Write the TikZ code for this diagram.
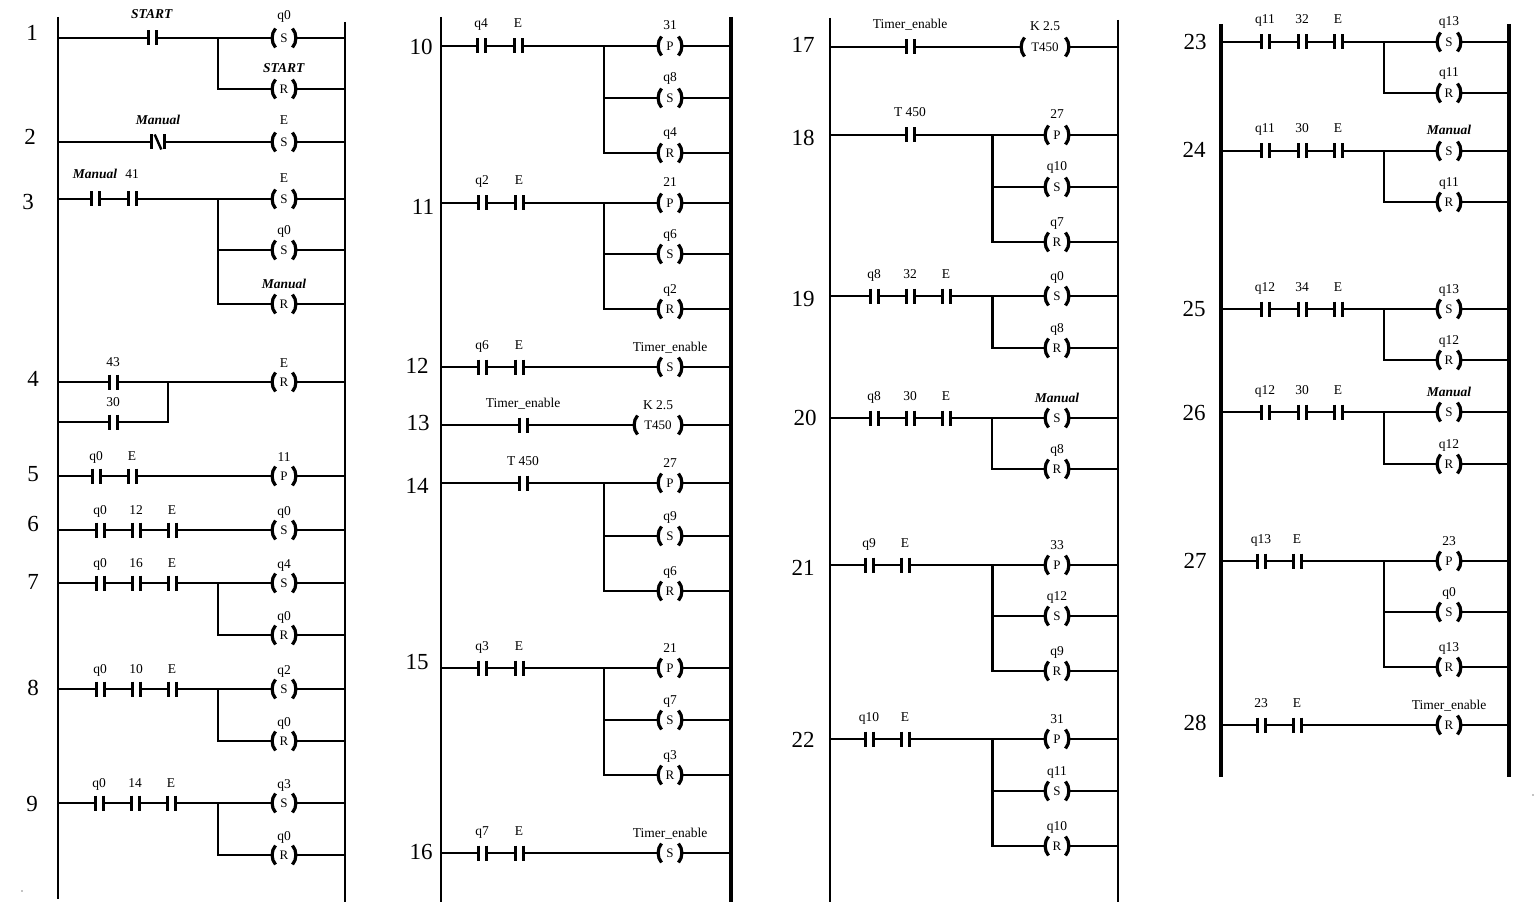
\documentclass[tikz,border=0pt]{standalone}
\usepackage{fontspec}
\setmainfont{Liberation Serif}
\usetikzlibrary{calc}
\tikzset{
  wire/.style={line width=2pt},
  bwire/.style={line width=3pt},
  rail/.style={line width=2.6pt},
  railthick/.style={line width=3.4pt},
  railheavy/.style={line width=4pt},
  plate/.style={line width=3pt},
  paren/.style={line width=3.2pt, line cap=butt},
  ctc/.style={rectangle, inner sep=0pt, outer sep=0pt, minimum width=8pt, minimum height=15pt},
  ncc/.style={ctc, minimum width=13pt},
  coil/.style={rectangle, inner sep=0pt, outer sep=0pt, minimum width=25pt, minimum height=19pt, font=\fontsize{13}{14}\selectfont},
  tmr/.style={coil, minimum width=49pt},
  lbl/.style={inner sep=0pt, anchor=base, font=\fontsize{13.5}{15}\selectfont},
  num/.style={inner sep=0pt, font=\fontsize{23}{25}\selectfont},
}
\def\clo{16pt}
\def\olo{15pt}
% normally open contact: name, x, y, label
\newcommand\NOc[4]{%
  \node[ctc] (#1) at (#2,#3) {};
  \draw[plate] (#1.north west) -- (#1.south west) (#1.north east) -- (#1.south east);
  \node[lbl] (#1l) at ([yshift=\clo]#1.center) {#4};}
% normally closed contact
\newcommand\NCc[4]{%
  \node[ncc] (#1) at (#2,#3) {};
  \draw[plate] (#1.north west) -- (#1.south west) (#1.north east) -- (#1.south east);
  \draw[line width=2.4pt] ([xshift=3.2pt]#1.north west) -- ([xshift=-3.2pt]#1.south east);
  \node[lbl] (#1l) at ([yshift=\clo]#1.center) {#4};}
% coil: [style] name, x, y, letter, label
\newcommand\CLc[6][coil]{%
  \node[#1] (#2) at (#3,#4) {#5};
  \draw[paren] ([xshift=4pt]#2.north west) .. controls ([xshift=-0.5pt,yshift=-5pt]#2.north west) and ([xshift=-0.5pt,yshift=5pt]#2.south west) .. ([xshift=4pt]#2.south west);
  \draw[paren] ([xshift=-4pt]#2.north east) .. controls ([xshift=0.5pt,yshift=-5pt]#2.north east) and ([xshift=0.5pt,yshift=5pt]#2.south east) .. ([xshift=-4pt]#2.south east);
  \node[lbl] (#2l) at ([yshift=\olo]#2.center) {#6};}
\newcommand\BI[1]{\textbf{\textit{#1}}}
\begin{document}
\begin{tikzpicture}[x=1pt,y=-1pt]
\fill[white] (0,0) rectangle (1536,912);
\useasboundingbox (0,0) rectangle (1536,912);

% ================= Column 1 =================
\coordinate (LA1) at (58,17);  \coordinate (LA2) at (58,899);
\coordinate (RA1) at (345,22); \coordinate (RA2) at (345,902);
\draw[rail] (LA1) -- (LA2);
\draw[rail] (RA1) -- (RA2);

\node[num] (n1) at (32,33) {1};
\node[num] (n2) at (30,137) {2};
\node[num] (n3) at (28,202) {3};
\node[num] (n4) at (33,379) {4};
\node[num] (n5) at (33,474) {5};
\node[num] (n6) at (33,524) {6};
\node[num] (n7) at (33,582) {7};
\node[num] (n8) at (33,688) {8};
\node[num] (n9) at (32,804) {9};

% rung 1
\def\clo{19pt}\def\olo{18pt}
\NOc{c1a}{152}{38}{\BI{START}}
\CLc{o1a}{284}{38}{S}{q0}
\def\olo{16pt}
\CLc{o1b}{284}{89}{R}{\BI{START}}
\coordinate (b1) at (218,38);
\draw[wire] (c1a -| LA1) -- (c1a) -- (o1a) -- (o1a -| RA1);
\draw[wire] (b1) |- (o1b) -- (o1b -| RA1);
% rung 2
\def\clo{17pt}\def\olo{17pt}
\NCc{c2a}{158}{142}{\BI{Manual}}
\CLc{o2a}{284}{142}{S}{E}
\draw[wire] (c2a -| LA1) -- (c2a) -- (o2a) -- (o2a -| RA1);
% rung 3
\def\clo{20pt}\def\olo{16pt}
\NOc{c3a}{95}{199}{\BI{Manual}}
\NOc{c3b}{132}{199}{41}
\CLc{o3a}{284}{199}{S}{E}
\CLc{o3b}{284}{250}{S}{q0}
\CLc{o3c}{284}{304}{R}{\BI{Manual}}
\coordinate (b3) at (218,199);
\draw[wire] (c3a -| LA1) -- (c3a) -- (c3b) -- (o3a) -- (o3a -| RA1);
\draw[wire] (b3) |- (o3b) -- (o3b -| RA1);
\draw[wire] (b3) |- (o3c) -- (o3c -| RA1);
\def\clo{16pt}\def\olo{15pt}
% rung 4
\NOc{c4a}{113}{382}{43}
\NOc{c4b}{113}{422}{30}
\CLc{o4a}{284}{382}{R}{E}
\coordinate (j4) at (168,382);
\draw[wire] (c4a -| LA1) -- (c4a) -- (o4a) -- (o4a -| RA1);
\draw[wire] (c4b -| LA1) -- (c4b) -| (j4);
% rung 5
\NOc{c5a}{96}{476}{q0}
\NOc{c5b}{132}{476}{E}
\CLc{o5a}{284}{476}{P}{11}
\draw[wire] (c5a -| LA1) -- (c5a) -- (c5b) -- (o5a) -- (o5a -| RA1);
% rung 6
\NOc{c6a}{100}{530}{q0}
\NOc{c6b}{136}{530}{12}
\NOc{c6c}{172}{530}{E}
\CLc{o6a}{284}{530}{S}{q0}
\draw[wire] (c6a -| LA1) -- (c6a) -- (c6b) -- (c6c) -- (o6a) -- (o6a -| RA1);
% rung 7
\NOc{c7a}{100}{583}{q0}
\NOc{c7b}{136}{583}{16}
\NOc{c7c}{172}{583}{E}
\CLc{o7a}{284}{583}{S}{q4}
\CLc{o7b}{284}{635}{R}{q0}
\coordinate (b7) at (218,583);
\draw[wire] (c7a -| LA1) -- (c7a) -- (c7b) -- (c7c) -- (o7a) -- (o7a -| RA1);
\draw[wire] (b7) |- (o7b) -- (o7b -| RA1);
% rung 8
\NOc{c8a}{100}{689}{q0}
\NOc{c8b}{136}{689}{10}
\NOc{c8c}{172}{689}{E}
\CLc{o8a}{284}{689}{S}{q2}
\CLc{o8b}{284}{741}{R}{q0}
\coordinate (b8) at (218,689);
\draw[wire] (c8a -| LA1) -- (c8a) -- (c8b) -- (c8c) -- (o8a) -- (o8a -| RA1);
\draw[wire] (b8) |- (o8b) -- (o8b -| RA1);
% rung 9
\NOc{c9a}{99}{803}{q0}
\NOc{c9b}{135}{803}{14}
\NOc{c9c}{171}{803}{E}
\CLc{o9a}{284}{803}{S}{q3}
\CLc{o9b}{284}{855}{R}{q0}
\coordinate (b9) at (218,803);
\draw[wire] (c9a -| LA1) -- (c9a) -- (c9b) -- (c9c) -- (o9a) -- (o9a -| RA1);
\draw[wire] (b9) |- (o9b) -- (o9b -| RA1);

% ================= Column 2 =================
\def\clo{18pt}\def\olo{16pt}
\coordinate (LB1) at (441,17); \coordinate (LB2) at (441,902);
\coordinate (RB1) at (731,17); \coordinate (RB2) at (731,902);
\draw[rail] (LB1) -- (LB2);
\draw[railthick] (RB1) -- (RB2);

\node[num] (n10) at (421,47) {10};
\node[num] (n11) at (423,207) {11};
\node[num] (n12) at (417,366) {12};
\node[num] (n13) at (418,423) {13};
\node[num] (n14) at (417,486) {14};
\node[num] (n15) at (417,662) {15};
\node[num] (n16) at (421,852) {16};

% rung 10
\NOc{c10a}{481}{46}{q4}
\NOc{c10b}{518}{46}{E}
\CLc{o10a}{670}{46}{P}{31}
\CLc{o10b}{670}{98}{S}{q8}
\CLc{o10c}{670}{153}{R}{q4}
\coordinate (b10) at (604,46);
\draw[wire] (c10a -| LB1) -- (c10a) -- (c10b) -- (o10a) -- (o10a -| RB1);
\draw[wire] (b10) |- (o10b) -- (o10b -| RB1);
\draw[wire] (b10) |- (o10c) -- (o10c -| RB1);
% rung 11
\NOc{c11a}{482}{203}{q2}
\NOc{c11b}{519}{203}{E}
\CLc{o11a}{670}{203}{P}{21}
\CLc{o11b}{670}{254}{S}{q6}
\CLc{o11c}{670}{309}{R}{q2}
\coordinate (b11) at (604,203);
\draw[wire] (c11a -| LB1) -- (c11a) -- (c11b) -- (o11a) -- (o11a -| RB1);
\draw[wire] (b11) |- (o11b) -- (o11b -| RB1);
\draw[wire] (b11) |- (o11c) -- (o11c -| RB1);
% rung 12
\NOc{c12a}{482}{367}{q6}
\NOc{c12b}{519}{367}{E}
\CLc{o12a}{670}{367}{S}{Timer\_enable}
\draw[wire] (c12a -| LB1) -- (c12a) -- (c12b) -- (o12a) -- (o12a -| RB1);
% rung 13
\NOc{c13a}{523}{425}{Timer\_enable}
\CLc[tmr]{o13a}{658}{425}{T450}{K 2.5}
\draw[wire] (c13a -| LB1) -- (c13a) -- (o13a) -- (o13a -| RB1);
% rung 14
\NOc{c14a}{523}{483}{T 450}
\CLc{o14a}{670}{483}{P}{27}
\CLc{o14b}{670}{536}{S}{q9}
\CLc{o14c}{670}{591}{R}{q6}
\coordinate (b14) at (604,483);
\draw[wire] (c14a -| LB1) -- (c14a) -- (o14a) -- (o14a -| RB1);
\draw[wire] (b14) |- (o14b) -- (o14b -| RB1);
\draw[wire] (b14) |- (o14c) -- (o14c -| RB1);
% rung 15
\NOc{c15a}{482}{668}{q3}
\NOc{c15b}{519}{668}{E}
\CLc{o15a}{670}{668}{P}{21}
\CLc{o15b}{670}{720}{S}{q7}
\CLc{o15c}{670}{775}{R}{q3}
\coordinate (b15) at (604,668);
\draw[wire] (c15a -| LB1) -- (c15a) -- (c15b) -- (o15a) -- (o15a -| RB1);
\draw[wire] (b15) |- (o15b) -- (o15b -| RB1);
\draw[wire] (b15) |- (o15c) -- (o15c -| RB1);
% rung 16
\NOc{c16a}{482}{853}{q7}
\NOc{c16b}{519}{853}{E}
\CLc{o16a}{670}{853}{S}{Timer\_enable}
\draw[wire] (c16a -| LB1) -- (c16a) -- (c16b) -- (o16a) -- (o16a -| RB1);

% ================= Column 3 =================
\coordinate (LC1) at (830,18);  \coordinate (LC2) at (830,902);
\coordinate (RC1) at (1118,20); \coordinate (RC2) at (1118,902);
\draw[rail] (LC1) -- (LC2);
\draw[rail] (RC1) -- (RC2);

\node[num] (n17) at (803,45) {17};
\node[num] (n18) at (803,138) {18};
\node[num] (n19) at (803,299) {19};
\node[num] (n20) at (805,418) {20};
\node[num] (n21) at (803,568) {21};
\node[num] (n22) at (803,740) {22};

% rung 17
\NOc{c17a}{910}{47}{Timer\_enable}
\CLc[tmr]{o17a}{1045}{47}{T450}{K 2.5}
\draw[wire] (c17a -| LC1) -- (c17a) -- (o17a) -- (o17a -| RC1);
% rung 18
\NOc{c18a}{910}{135}{T 450}
\CLc{o18a}{1057}{135}{P}{27}
\CLc{o18b}{1057}{187}{S}{q10}
\CLc{o18c}{1057}{242}{R}{q7}
\coordinate (b18) at (992,135);
\draw[wire] (c18a -| LC1) -- (c18a) -- (o18a) -- (o18a -| RC1);
\draw[wire] (b18) |- (o18b) -- (o18b -| RC1);
\draw[wire] (b18) |- (o18c) -- (o18c -| RC1);
\draw[bwire] (b18) -- (b18 |- o18c);
% rung 19
\NOc{c19a}{874}{296}{q8}
\NOc{c19b}{910}{296}{32}
\NOc{c19c}{946}{296}{E}
\CLc{o19a}{1057}{296}{S}{q0}
\CLc{o19b}{1057}{348}{R}{q8}
\coordinate (b19) at (992,296);
\draw[wire] (c19a -| LC1) -- (c19a) -- (c19b) -- (c19c) -- (o19a) -- (o19a -| RC1);
\draw[wire] (b19) |- (o19b) -- (o19b -| RC1);
\draw[bwire] (b19) -- (b19 |- o19b);
% rung 20
\NOc{c20a}{874}{418}{q8}
\NOc{c20b}{910}{418}{30}
\NOc{c20c}{946}{418}{E}
\CLc{o20a}{1057}{418}{S}{\BI{Manual}}
\CLc{o20b}{1057}{469}{R}{q8}
\coordinate (b20) at (992,418);
\draw[wire] (c20a -| LC1) -- (c20a) -- (c20b) -- (c20c) -- (o20a) -- (o20a -| RC1);
\draw[wire] (b20) |- (o20b) -- (o20b -| RC1);
% rung 21
\NOc{c21a}{869}{565}{q9}
\NOc{c21b}{905}{565}{E}
\CLc{o21a}{1057}{565}{P}{33}
\CLc{o21b}{1057}{616}{S}{q12}
\CLc{o21c}{1057}{671}{R}{q9}
\coordinate (b21) at (992,565);
\draw[wire] (c21a -| LC1) -- (c21a) -- (c21b) -- (o21a) -- (o21a -| RC1);
\draw[wire] (b21) |- (o21b) -- (o21b -| RC1);
\draw[wire] (b21) |- (o21c) -- (o21c -| RC1);
\draw[bwire] (b21) -- (b21 |- o21c);
% rung 22
\NOc{c22a}{869}{739}{q10}
\NOc{c22b}{905}{739}{E}
\CLc{o22a}{1057}{739}{P}{31}
\CLc{o22b}{1057}{791}{S}{q11}
\CLc{o22c}{1057}{846}{R}{q10}
\coordinate (b22) at (992,739);
\draw[wire] (c22a -| LC1) -- (c22a) -- (c22b) -- (o22a) -- (o22a -| RC1);
\draw[wire] (b22) |- (o22b) -- (o22b -| RC1);
\draw[wire] (b22) |- (o22c) -- (o22c -| RC1);
\draw[bwire] (b22) -- (b22 |- o22c);

% ================= Column 4 =================
\coordinate (LD1) at (1221,24); \coordinate (LD2) at (1221,777);
\coordinate (RD1) at (1509,24); \coordinate (RD2) at (1509,777);
\draw[railheavy] (LD1) -- (LD2);
\draw[railheavy] (RD1) -- (RD2);

\node[num] (n23) at (1195,42) {23};
\node[num] (n24) at (1194,150) {24};
\node[num] (n25) at (1194,309) {25};
\node[num] (n26) at (1194,413) {26};
\node[num] (n27) at (1195,561) {27};
\node[num] (n28) at (1195,723) {28};

% rung 23
\NOc{c23a}{1265}{42}{q11}
\NOc{c23b}{1302}{42}{32}
\NOc{c23c}{1338}{42}{E}
\CLc{o23a}{1449}{42}{S}{q13}
\CLc{o23b}{1449}{93}{R}{q11}
\coordinate (b23) at (1384,42);
\draw[wire] (c23a -| LD1) -- (c23a) -- (c23b) -- (c23c) -- (o23a) -- (o23a -| RD1);
\draw[wire] (b23) |- (o23b) -- (o23b -| RD1);
% rung 24
\NOc{c24a}{1265}{151}{q11}
\NOc{c24b}{1302}{151}{30}
\NOc{c24c}{1338}{151}{E}
\CLc{o24a}{1449}{151}{S}{\BI{Manual}}
\CLc{o24b}{1449}{202}{R}{q11}
\coordinate (b24) at (1384,151);
\draw[wire] (c24a -| LD1) -- (c24a) -- (c24b) -- (c24c) -- (o24a) -- (o24a -| RD1);
\draw[wire] (b24) |- (o24b) -- (o24b -| RD1);
% rung 25
\NOc{c25a}{1265}{309}{q12}
\NOc{c25b}{1302}{309}{34}
\NOc{c25c}{1338}{309}{E}
\CLc{o25a}{1449}{309}{S}{q13}
\CLc{o25b}{1449}{360}{R}{q12}
\coordinate (b25) at (1384,309);
\draw[wire] (c25a -| LD1) -- (c25a) -- (c25b) -- (c25c) -- (o25a) -- (o25a -| RD1);
\draw[wire] (b25) |- (o25b) -- (o25b -| RD1);
% rung 26
\NOc{c26a}{1265}{412}{q12}
\NOc{c26b}{1302}{412}{30}
\NOc{c26c}{1338}{412}{E}
\CLc{o26a}{1449}{412}{S}{\BI{Manual}}
\CLc{o26b}{1449}{464}{R}{q12}
\coordinate (b26) at (1384,412);
\draw[wire] (c26a -| LD1) -- (c26a) -- (c26b) -- (c26c) -- (o26a) -- (o26a -| RD1);
\draw[wire] (b26) |- (o26b) -- (o26b -| RD1);
% rung 27
\NOc{c27a}{1261}{561}{q13}
\NOc{c27b}{1297}{561}{E}
\CLc{o27a}{1449}{561}{P}{23}
\CLc{o27b}{1449}{612}{S}{q0}
\CLc{o27c}{1449}{667}{R}{q13}
\coordinate (b27) at (1384,561);
\draw[wire] (c27a -| LD1) -- (c27a) -- (c27b) -- (o27a) -- (o27a -| RD1);
\draw[wire] (b27) |- (o27b) -- (o27b -| RD1);
\draw[wire] (b27) |- (o27c) -- (o27c -| RD1);
% rung 28
\NOc{c28a}{1261}{725}{23}
\NOc{c28b}{1297}{725}{E}
\CLc{o28a}{1449}{725}{R}{Timer\_enable}
\draw[wire] (c28a -| LD1) -- (c28a) -- (c28b) -- (o28a) -- (o28a -| RD1);

% specks
\fill (22,891) circle (0.7);
\fill (1533,795) circle (0.7);
\end{tikzpicture}
\end{document}
